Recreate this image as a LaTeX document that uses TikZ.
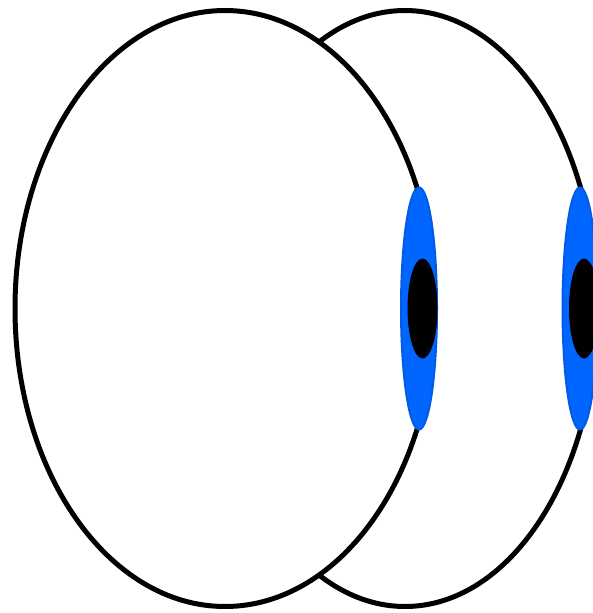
\documentclass[tikz,border=0pt]{standalone}
\usepackage{tikz}

\definecolor{irisblue}{HTML}{0066FF}
\definecolor{irisrim}{HTML}{005CE6}

\begin{document}
\begin{tikzpicture}[
    x=1pt, y=-1pt,
    eyeball/.style={draw=black, fill=white, line width=5pt},
    iris/.style={draw=irisrim, fill=irisblue, line width=2pt},
    pupil/.style={fill=black}
    ]
    \useasboundingbox (0,0) rectangle (593,613);
    % Back eye
    \draw[eyeball] (405,308.5) ellipse [x radius=192, y radius=298];
    \draw[iris] (580,308.5) ellipse [x radius=17.5, y radius=121];
    \fill[pupil] (584,308.5) ellipse [x radius=15, y radius=50];
    % Front eye
    \draw[eyeball] (225,308.5) ellipse [x radius=210, y radius=298];
    \draw[iris] (419,308.5) ellipse [x radius=18, y radius=121];
    \fill[pupil] (422.5,308.5) ellipse [x radius=15, y radius=50];
\end{tikzpicture}
\end{document}
